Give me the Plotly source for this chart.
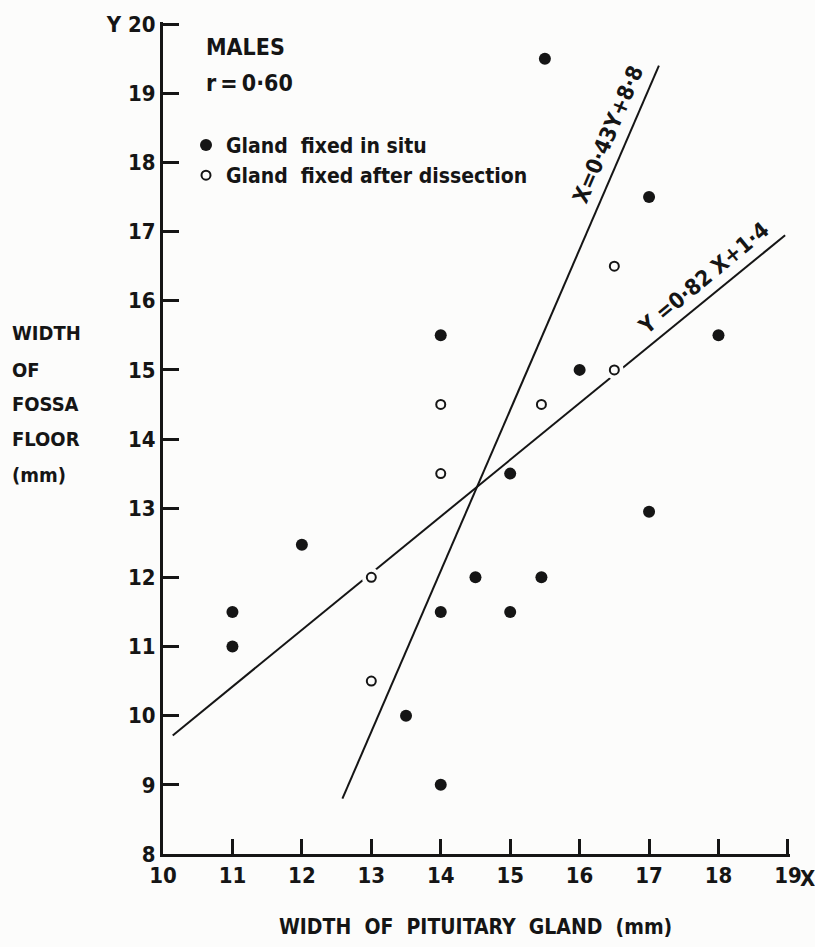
import math
import plotly.graph_objects as go

# ---------------- data ----------------
insitu_x = [15.5, 17, 14, 18, 16, 15, 17, 12, 14.5, 15.45, 11, 11, 14, 15, 13.5, 14]
insitu_y = [19.5, 17.5, 15.5, 15.5, 15, 13.5, 12.95, 12.47, 12, 12, 11.5, 11, 11.5, 11.5, 10, 9]

dissect_x = [16.5, 16.5, 14, 15.45, 14, 13, 13]
dissect_y = [16.5, 15, 14.5, 14.5, 13.5, 12, 10.5]

# regression Y on X : Y = a*X + b, drawn over X range
reg_yx = dict(a=0.82, b=1.4, xr=[10.14, 18.96])
# regression X on Y : X = c*Y + d, drawn over Y range
reg_xy = dict(c=0.43, d=8.8, yr=[8.8, 19.4])

x_ticks = [10, 11, 12, 13, 14, 15, 16, 17, 18, 19]
y_ticks = [8, 9, 10, 11, 12, 13, 14, 15, 16, 17, 18, 19, 20]
y_ticktext = [str(v) for v in y_ticks[:-1]] + ["Y 20"]

FONT = "DejaVu Sans Condensed, DejaVu Sans, sans-serif"
INK = "#151515"
BG = "#fcfcfb"

W, H = 815, 947
ML, MR, MT, MB = 163, 25, 12, 93
PW, PH = W - ML - MR, H - MT - MB
XR, YR = [10, 19.03], [8, 20.03]
sx = PW / (XR[1] - XR[0])
sy = PH / (YR[1] - YR[0])

def px2paper(px, py):
    return (px - ML) / PW, (H - MB - py) / PH

def f(size):
    return dict(family=FONT, size=size, color=INK, weight="bold")

fig = go.Figure()

# regression lines
lx1 = reg_yx["xr"]
ly1 = [reg_yx["a"] * v + reg_yx["b"] for v in lx1]
fig.add_trace(go.Scatter(x=lx1, y=ly1, mode="lines", line=dict(color=INK, width=2),
                         showlegend=False, hoverinfo="skip"))
ly2 = reg_xy["yr"]
lx2 = [reg_xy["c"] * v + reg_xy["d"] for v in ly2]
fig.add_trace(go.Scatter(x=lx2, y=ly2, mode="lines", line=dict(color=INK, width=2),
                         showlegend=False, hoverinfo="skip"))

# white halo under open circles (breaks the line as in original)
fig.add_trace(go.Scatter(x=dissect_x, y=dissect_y, mode="markers",
                         marker=dict(size=19, color=BG, line=dict(width=0)),
                         showlegend=False, hoverinfo="skip"))

fig.add_trace(go.Scatter(x=insitu_x, y=insitu_y, mode="markers", name="Gland  fixed in situ",
                         marker=dict(size=12, color=INK, line=dict(width=0))))
fig.add_trace(go.Scatter(x=dissect_x, y=dissect_y, mode="markers", name="Gland  fixed after dissection",
                         marker=dict(size=9, color=BG, line=dict(width=2, color=INK))))

annots = []

def add_text(px, py, text, size=22, xanchor="left", angle=0):
    xp, yp = px2paper(px, py)
    annots.append(dict(x=xp, y=yp, xref="paper", yref="paper", text=text, showarrow=False,
                       xanchor=xanchor, yanchor="middle", textangle=angle, font=f(size)))

add_text(204, 37, "MALES", 23)
add_text(204, 74, "r\u2009=\u20090·60", 23)

# y-axis title (stacked words)
for word, py in zip(["WIDTH", "OF", "FOSSA", "FLOOR", "(mm)"], [327, 364, 399, 434, 470]):
    add_text(10, py, word, 20)

# x-axis title
add_text(475, 928, "WIDTH  OF  PITUITARY  GLAND  (mm)", 21, xanchor="center")

# X label at end of x axis
annots.append(dict(x=19, y=0, xref="x", yref="paper", text="X", showarrow=False,
                   xanchor="left", yanchor="top", xshift=10, yshift=-10, font=f(22)))

# equation labels along lines
ang1 = -math.degrees(math.atan(reg_yx["a"] * sy / sx))
xe1 = 17.81
annots.append(dict(x=xe1, y=reg_yx["a"] * xe1 + reg_yx["b"], xref="x", yref="y",
                   text="Y =0·82 X+1·4", showarrow=False, textangle=ang1,
                   xshift=-2, yshift=22, font=f(22)))
ang2 = -math.degrees(math.atan(sy / (reg_xy["c"] * sx)))
ye2 = 18.3
annots.append(dict(x=reg_xy["c"] * ye2 + reg_xy["d"], y=ye2, xref="x", yref="y",
                   text="X=0·43Y+8·8", showarrow=False, textangle=ang2,
                   xshift=-18, yshift=7, font=f(22)))

fig.update_layout(
    width=W, height=H,
    margin=dict(l=ML, r=MR, t=MT, b=MB, pad=0),
    paper_bgcolor=BG, plot_bgcolor=BG,
    font=f(22),
    annotations=annots,
    showlegend=True,
    legend=dict(x=px2paper(186, 0)[0], y=px2paper(0, 116)[1], xanchor="left", yanchor="top",
                bgcolor="rgba(0,0,0,0)", borderwidth=0, tracegroupgap=0,
                font=f(21), itemwidth=30),
    xaxis=dict(range=XR, tickvals=x_ticks, ticks="inside", ticklen=15, tickwidth=2.5,
               tickcolor=INK, showline=True, linewidth=3, linecolor=INK,
               showgrid=False, zeroline=False, tickfont=f(22)),
    yaxis=dict(range=YR, tickvals=y_ticks, ticktext=y_ticktext, ticks="inside", ticklen=16,
               tickwidth=2.5, tickcolor=INK, showline=True, linewidth=3, linecolor=INK,
               showgrid=False, zeroline=False, tickfont=f(22)),
)

fig.write_html("out.html")
